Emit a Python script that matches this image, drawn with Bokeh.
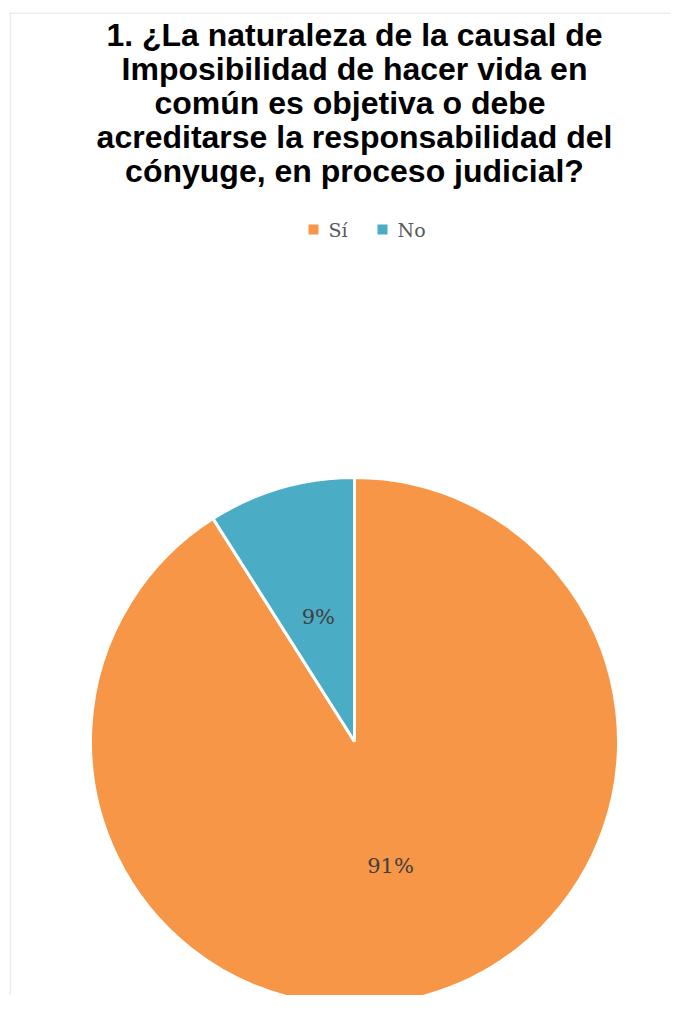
import math
from bokeh.plotting import figure
from bokeh.models import Range1d, ColumnDataSource, Span
from bokeh.core.properties import value
from bokeh.embed import file_html
from bokeh.resources import INLINE

# ---- data ----
TITLE_LINES = [
    "1. ¿La naturaleza de la causal de",
    "Imposibilidad de hacer vida en",
    "común es objetiva o debe ",
    "acreditarse la responsabilidad del",
    "cónyuge, en proceso judicial?",
]
categories = ["Sí", "No"]
percentages = [91, 9]
colors = ["#F79646", "#4BACC6"]

# ---- layout (data units = pixels; x from frame left, y negative downward from frame top) ----
W, H = 671, 995
ML, MT = 9, 12
FRAME_W, FRAME_H = W - ML, H - MT
CX, CY, R = 345, -729, 264

p = figure(width=W, height=H, output_backend="svg", toolbar_location=None,
           x_range=Range1d(0, FRAME_W), y_range=Range1d(-FRAME_H, 0),
           min_border_left=ML, min_border_top=MT, min_border_right=0, min_border_bottom=0,
           x_axis_location=None, y_axis_location=None)
p.grid.visible = False
p.outline_line_color = None
p.background_fill_color = "white"
p.border_fill_color = "white"

# chart-area border (left and top edges visible in the reference)
p.add_layout(Span(location=0.5, dimension="height", line_color="#D9D9D9", line_width=1))
p.add_layout(Span(location=-0.5, dimension="width", line_color="#D9D9D9", line_width=1))

# ---- pie ----
total = sum(percentages)
starts, ends, lx, ly, labels = [], [], [], [], []
a = math.pi / 2
for v in percentages:
    span = v / total * 2 * math.pi
    starts.append(a)
    ends.append(a - span)
    mid = a - span / 2
    lx.append(CX + 0.49 * R * math.cos(mid))
    ly.append(CY + 0.49 * R * math.sin(mid))
    labels.append(f"{v}%")
    a -= span

src = ColumnDataSource(dict(cat=categories, start=starts, end=ends, color=colors,
                            lx=lx, ly=ly, label=labels))
p.wedge(x=CX, y=CY, radius=R, start_angle="start", end_angle="end", direction="clock",
        fill_color="color", line_color="white", line_width=3, source=src)
p.text(x="lx", y="ly", text="label", source=src, text_align="center", text_baseline="middle",
       text_font=value("DejaVu Serif"), text_font_size="21px", text_color="#404040")

# ---- title ----
tsrc = ColumnDataSource(dict(t=TITLE_LINES,
                             x=[345] * len(TITLE_LINES),
                             y=[-22 - 34 * i for i in range(len(TITLE_LINES))]))
p.text(x="x", y="y", text="t", source=tsrc, text_align="center", text_baseline="alphabetic",
       text_font=value("Liberation Sans"), text_font_style="bold", text_font_size="32px",
       text_color="#000000")

# ---- legend (manual, horizontal) ----
leg = ColumnDataSource(dict(cat=categories, color=colors,
                            mx=[304, 373], tx=[319, 388], y=[-217, -217]))
p.scatter(x="mx", y="y", source=leg, marker="square", size=10,
          fill_color="color", line_color=None)
p.text(x="tx", y="y", text="cat", source=leg, text_align="left", text_baseline="middle",
       text_font=value("DejaVu Serif"), text_font_size="19px", text_color="#595959")

open("out.html", "w").write(file_html(p, INLINE))
